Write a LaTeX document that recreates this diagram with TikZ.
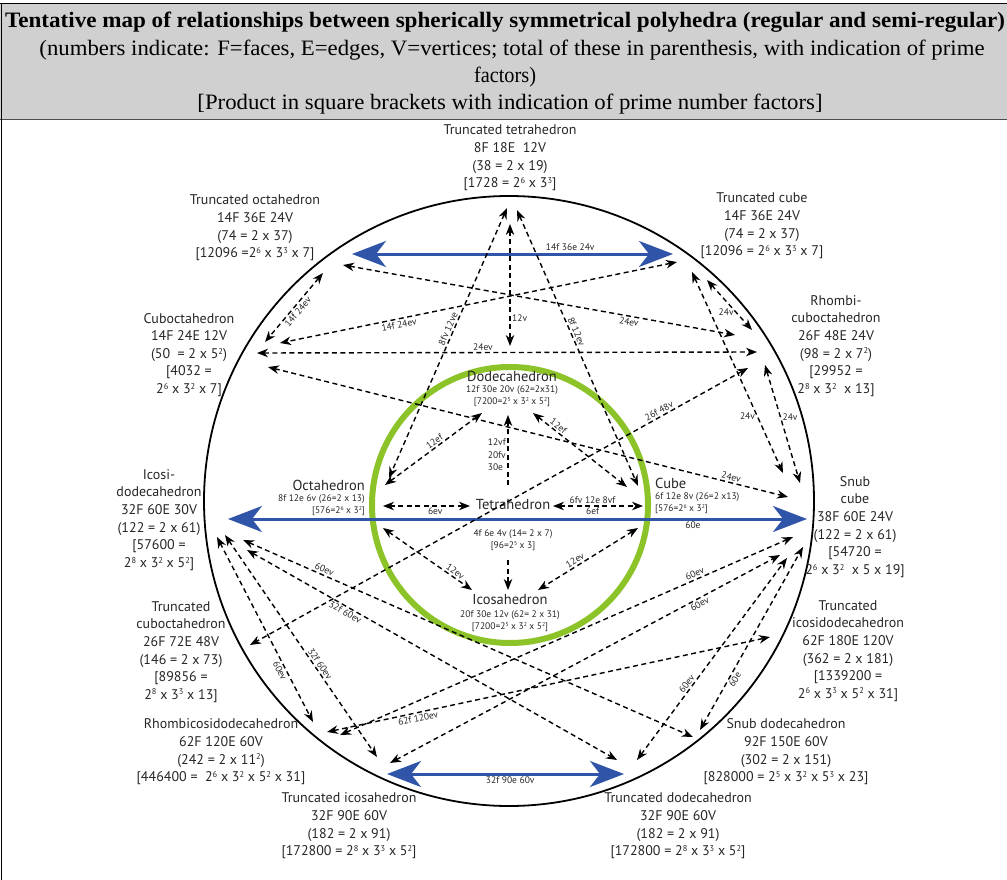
\documentclass[tikz,border=0pt]{standalone}
\usepackage{fontspec}
\usepackage{graphicx}
\setmainfont{Liberation Serif}
\newfontfamily\dsf{PT Sans}
\usetikzlibrary{arrows.meta}
\definecolor{hdrgray}{RGB}{208,208,208}
\definecolor{arrblue}{RGB}{48,84,168}
\definecolor{ringgreen}{RGB}{140,195,40}
\newcommand{\sq}[1]{\raisebox{0.62ex}{\scalebox{0.6}{#1}}}
\begin{document}
\begin{tikzpicture}[x=1pt,y=-1pt,
 poly/.style={font=\dsf\fontsize{14}{17.6}\selectfont, align=center, inner sep=0pt, text=black!85},
 midt/.style={font=\dsf\fontsize{14.5}{16}\selectfont, inner sep=0pt, text=black!85},
 subt/.style={font=\dsf\fontsize{9.5}{12.5}\selectfont, inner sep=0pt, align=center, text=black!85},
 lbl/.style={font=\dsf\fontsize{9.5}{10}\selectfont, inner sep=1.5pt, text=black!85},
 hdr/.style={font=\fontsize{22}{26}\selectfont, inner sep=0pt},
 dsh/.style={line width=1.4pt, dash pattern=on 5pt off 3.5pt, {Stealth[length=11pt,width=8.5pt,inset=3.5pt]}-{Stealth[length=11pt,width=8.5pt,inset=3.5pt]}},
 dsho/.style={line width=1.4pt, dash pattern=on 5pt off 3.5pt, -{Stealth[length=11pt,width=8.5pt,inset=3.5pt]}},
 blu/.style={line width=3pt, arrblue, {Stealth[length=34pt,width=26pt,inset=10pt]}-{Stealth[length=34pt,width=26pt,inset=10pt]}},
]
\useasboundingbox (0,0) rectangle (1007,880);
% header
\fill[hdrgray] (0,4) rectangle (1007,119);
\draw[line width=1pt] (0,4) -- (1007,4);
\draw[line width=0.8pt, black!70] (0,119) -- (1007,119);
\draw[line width=1.2pt] (1.5,4) -- (1.5,880);
\node[hdr] (h1) at (505,22) {\resizebox{1000pt}{\height}{\bfseries Tentative map of relationships between spherically symmetrical polyhedra (regular and semi-regular)}};
\node[hdr] (h2) at (512,50) {\resizebox{945pt}{\height}{(numbers indicate: F=faces, E=edges, V=vertices; total of these in parenthesis, with indication of prime}};
\node[hdr] (h3) at (505,77) {\resizebox{62pt}{\height}{factors)}};
\node[hdr] (h4) at (510,104) {\resizebox{625pt}{\height}{[Product in square brackets with indication of prime number factors]}};

% circles
\node[circle, draw, line width=1.8pt, minimum size=610pt, inner sep=0pt] (outer) at (509,501) {};
\node[circle, draw=ringgreen, line width=6pt, minimum size=276pt, inner sep=0pt] (ring) at (510,505) {};

% outer polyhedra
\node[poly] (tt) at (510,158) {Truncated tetrahedron\\8F 18E\ \ 12V\\(38 = 2 x 19)\\{[}1728 = 2\sq{6} x 3\sq{3}{]}};
\node[poly] (to) at (255,228) {Truncated octahedron\\14F 36E 24V\\(74 = 2 x 37)\\{[}12096 =2\sq{6} x 3\sq{3} x 7{]}};
\node[poly] (tc) at (762,226) {Truncated cube\\14F 36E 24V\\(74 = 2 x 37)\\{[}12096 = 2\sq{6} x 3\sq{3} x 7{]}};
\node[poly] (co) at (189,355) {Cuboctahedron\\14F 24E 12V\\(50\ \ = 2 x 5\sq{2})\\{[}4032 =\\2\sq{6} x 3\sq{2} x 7{]}};
\node[poly] (rco) at (836,346) {Rhombi-\\cuboctahedron\\26F 48E 24V\\(98 = 2 x 7\sq{2})\\{[}29952 =\\2\sq{8} x 3\sq{2}\ \ x 13{]}};
\node[poly] (id) at (159,520) {Icosi-\\dodecahedron\\32F 60E 30V\\(122 = 2 x 61)\\{[}57600 =\\2\sq{8} x 3\sq{2} x 5\sq{2}{]}};
\node[poly] (sc) at (855,527) {Snub\\cube\\38F 60E 24V\\(122 = 2 x 61)\\{[}54720 =\\2\sq{6} x 3\sq{2}\ \ x 5 x 19{]}};
\node[poly] (tco) at (181,652) {Truncated\\cuboctahedron\\26F 72E 48V\\(146 = 2 x 73)\\{[}89856 =\\2\sq{8} x 3\sq{3} x 13{]}};
\node[poly] (tid) at (848,651) {Truncated\\icosidodecahedron\\62F 180E 120V\\(362 = 2 x 181)\\{[}1339200 =\\2\sq{6} x 3\sq{3} x 5\sq{2} x 31{]}};
\node[poly] (rid) at (221,752) {Rhombicosidodecahedron\\62F 120E 60V\\(242 = 2 x 11\sq{2})\\{[}446400 =\ \ 2\sq{6} x 3\sq{2} x 5\sq{2} x 31{]}};
\node[poly] (sd) at (786,752) {Snub dodecahedron\\92F 150E 60V\\(302 = 2 x 151)\\{[}828000 = 2\sq{5} x 3\sq{2} x 5\sq{3} x 23{]}};
\node[poly] (ti) at (349,826) {Truncated icosahedron\\32F 90E 60V\\(182 = 2 x 91)\\{[}172800 = 2\sq{8} x 3\sq{3} x 5\sq{2}{]}};
\node[poly] (td) at (678,826) {Truncated dodecahedron\\32F 90E 60V\\(182 = 2 x 91)\\{[}172800 = 2\sq{8} x 3\sq{3} x 5\sq{2}{]}};

% inner polyhedra
\node[midt] (dd) at (512,376) {Dodecahedron};
\node[subt] (ddsub) at (512,396) {12f 30e 20v (62=2x31)\\{[}7200=2\sq{5} x 3\sq{2} x 5\sq{2}{]}};
\node[midt] (te) at (513,505) {Tetrahedron};
\node[subt] (tesub) at (513,540) {4f 6e 4v (14= 2 x 7)\\{[}96=2\sq{5} x 3{]}};
\node[midt] (ic) at (510,600) {Icosahedron};
\node[subt] (icsub) at (510,621) {20f 30e 12v (62= 2 x 31)\\{[}7200=2\sq{5} x 3\sq{2} x 5\sq{2}{]}};
\node[midt, anchor=east] (oc) at (365,485) {Octahedron};
\node[subt, anchor=east, align=right] (ocsub) at (365,505) {8f 12e 6v (26=2 x 13)\\{[}576=2\sq{6} x 3\sq{2}{]}};
\node[midt, anchor=west] (cu) at (655,483) {Cube};
\node[subt, anchor=west, align=left] (cusub) at (655,503) {6f 12e 8v (26=2 x13)\\{[}576=2\sq{6} x 3\sq{2}{]}};

% endpoints
\coordinate (TTa) at (507,208); \coordinate (TTb) at (510,224); \coordinate (TTc) at (517,210); \coordinate (Pm) at (510,346);
\coordinate (TOb) at (352,254); \coordinate (TOd) at (343,265); \coordinate (TOc) at (323,273);
\coordinate (TCb) at (673,254); \coordinate (TCa) at (677,262); \coordinate (TCs) at (692,272); \coordinate (TCr) at (707,280);
\coordinate (COa) at (265,342); \coordinate (COb) at (280,343); \coordinate (COc) at (257,353); \coordinate (COd) at (268,367);
\coordinate (RCa) at (752,330); \coordinate (RCb) at (735,335); \coordinate (RCc) at (757,352); \coordinate (RCd) at (748,368); \coordinate (RCe) at (765,365);
\coordinate (SCb) at (807,519); \coordinate (SCa) at (783,473); \coordinate (SCe) at (800,483); \coordinate (SCd) at (788,497);
\coordinate (SCf) at (793,537); \coordinate (SCg) at (780,555); \coordinate (SCh) at (787,558); \coordinate (SCi) at (803,547);
\coordinate (IDb) at (228,519); \coordinate (IDa) at (243,540); \coordinate (IDc) at (247,550); \coordinate (IDd) at (217,537); \coordinate (IDe) at (225,535);
\coordinate (TCOa) at (250,645); \coordinate (TIDa) at (770,637);
\coordinate (RIDa) at (313,722); \coordinate (RIDb) at (327,732); \coordinate (RIDc) at (340,735);
\coordinate (SDa) at (693,737); \coordinate (SDb) at (700,730);
\coordinate (TIb) at (387,774); \coordinate (TIa) at (377,757); \coordinate (TIc) at (390,763);
\coordinate (TDb) at (624,774); \coordinate (TDa) at (617,760); \coordinate (TDc) at (637,760);
\coordinate (OCa) at (385,485); \coordinate (OCt) at (389,478); \coordinate (OCb) at (383,506); \coordinate (OCc) at (383,528);
\coordinate (DDa) at (482,413); \coordinate (DDb) at (508,415); \coordinate (DDc) at (533,413);
\coordinate (CUa) at (627,487); \coordinate (CUt) at (638,486); \coordinate (CUb) at (643,506); \coordinate (CUd) at (638,528);
\coordinate (TEl) at (470,506); \coordinate (TEr) at (553,506); \coordinate (TEt) at (508,485); \coordinate (TEb) at (508,560);
\coordinate (ICa) at (472,590); \coordinate (ICb) at (508,590); \coordinate (ICc) at (538,590);

% blue arrows
\draw[blu] (TOb) -- node[lbl, above, pos=0.68]{14f 36e 24v} (TCb);
\draw[blu] (IDb) -- node[lbl, below, pos=0.803]{60e} (SCb);
\draw[blu] (TIb) -- node[lbl, below, pos=0.52]{32f 90e 60v} (TDb);

% outer dashed
\draw[dsh] (TTa) -- node[lbl, sloped, above, pos=0.456]{8fv 12ve} (OCt);
\draw[dsh] (TTb) -- node[lbl, right, pos=0.77]{12v} (Pm);
\draw[dsh] (TTc) -- node[lbl, sloped, above, pos=0.449]{8f 12ev} (CUt);
\draw[dsh] (TOd) -- node[lbl, sloped, below, pos=0.732]{24ev} (RCb);
\draw[dsh] (TOc) -- node[lbl, sloped, below, pos=0.507]{14f 24ev} (COa);
\draw[dsh] (TCa) -- node[lbl, sloped, below, pos=0.703]{14f 24ev} (COb);
\draw[dsh] (TCr) -- node[lbl, left, pos=0.64]{24v} (RCa);
\draw[dsh] (TCs) -- node[lbl, left, pos=0.716]{24v} (SCa);
\draw[dsh] (RCe) -- node[lbl, right, pos=0.44]{24v} (SCe);
\draw[dsh] (COc) -- node[lbl, above, pos=0.452]{24ev} (RCc);
\draw[dsh] (COd) -- node[lbl, sloped, above, pos=0.888]{24ev} (SCd);
\draw[dsh] (RCd) -- node[lbl, sloped, above, pos=0.173]{26f 48v} (TCOa);
\draw[dsh] (IDa) -- node[lbl, sloped, above, pos=0.176]{60ev} (SDa);
\draw[dsh] (IDc) -- node[lbl, sloped, below, pos=0.273]{32f 60ev} (TDa);
\draw[dsh] (IDd) -- node[lbl, sloped, below, pos=0.708]{60ev} (RIDa);
\draw[dsh] (IDe) -- node[lbl, sloped, above, pos=0.595]{32f 60ev} (TIa);
\draw[dsh] (RIDb) -- node[lbl, sloped, below, pos=0.203]{62f 120ev} (TIDa);
\draw[dsh] (RIDc) -- node[lbl, sloped, above, pos=0.788]{60ev} (SCf);
\draw[dsh] (TIc) -- node[lbl, sloped, below, pos=0.787]{60ev} (SCg);
\draw[dsh] (TDc) -- node[lbl, sloped, above, pos=0.361]{60ev} (SCh);
\draw[dsh] (SDb) -- node[lbl, sloped, below, pos=0.29]{60e} (SCi);

% inner dashed
\draw[dsh] (OCa) -- node[lbl, sloped, above, pos=0.545]{12ef} (DDa);
\draw[dsh] (DDc) -- node[lbl, sloped, above, pos=0.234]{12ef} (CUa);
\draw[dsho] (TEt) -- node[lbl, left, align=left, pos=0.43, font=\dsf\fontsize{9.5}{12.5}\selectfont]{12vf\\20fv\\30e} (DDb);
\draw[dsho] (TEb) -- (ICb);
\draw[dsh] (OCb) -- node[lbl, below, pos=0.6]{6ev} (TEl);
\draw[dsh] (TEr) -- node[lbl, above, pos=0.44]{6fv 12e 8vf} node[lbl, below, pos=0.44]{6ef} (CUb);
\draw[dsh] (OCc) -- node[lbl, sloped, above, pos=0.775]{12ev} (ICa);
\draw[dsh] (CUd) -- node[lbl, sloped, above, pos=0.6]{12ev} (ICc);
\end{tikzpicture}
\end{document}
